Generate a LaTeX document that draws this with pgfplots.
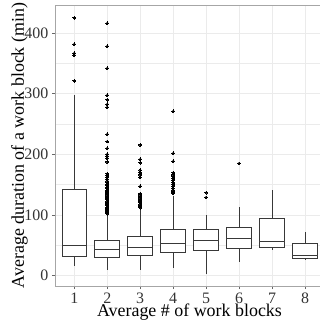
\documentclass[border=0pt]{standalone}
\usepackage{fontspec}
\setmainfont{Liberation Serif}
\usepackage{pgfplots}
\pgfplotsset{compat=1.18}
\usepgfplotslibrary{statistics}
\definecolor{boxc}{HTML}{383838}
\definecolor{gridc}{HTML}{EBEBEB}
\definecolor{borderc}{HTML}{A6A6A6}
\definecolor{tickc}{HTML}{333333}
\definecolor{tickm}{HTML}{666666}
\pgfplotsset{
  bp/.style={draw=boxc, fill=white, line width=0.85bp, solid,
    mark=*, mark size=1.35bp, mark options={draw=black, fill=black, line width=0pt}},
}
\begin{document}
\begin{tikzpicture}
\begin{axis}[
  width=265bp, height=281bp, scale only axis,
  xmin=0.414, xmax=8.455, ymin=-17, ymax=446,
  xtick={1,2,3,4,5,6,7,8}, ytick={0,100,200,300,400},
  minor ytick={50,150,250,350},
  grid=both,
  major grid style={gridc, line width=0.7bp},
  minor grid style={gridc, line width=0.35bp},
  axis x line*=box, axis y line*=left,
  axis line style={borderc, line width=0.7bp},
  tick align=outside, major tick length=3bp, minor tick length=0pt,
  tick style={tickm, line width=0.6bp},
  xtick pos=left, ytick pos=left,
  /pgf/number format/assume math mode=true,
  ticklabel style={font=\fontsize{16}{16}\selectfont, text=tickc},
  yticklabel style={anchor=east, inner sep=0pt, xshift=-3.5bp},
  xticklabel style={anchor=north, inner sep=0pt, yshift=-4bp},
  xlabel={Average \# of work blocks},
  ylabel={Average duration of a work block (min)},
  label style={font=\fontsize{18}{18}\selectfont, inner sep=0pt},
  xlabel style={at={(axis description cs:0.5075,-0.1068)}, anchor=base},
  ylabel style={at={(axis description cs:-0.117,0.5)}, anchor=base},
  boxplot/draw direction=y,
  boxplot/box extend=0.75,
  boxplot/whisker extend=0,
  boxplot/every median/.style={line width=1.3bp},
]
\addplot[bp, boxplot prepared={draw position=1, lower whisker=16, lower quartile=31.3, median=49.4, upper quartile=141.7, upper whisker=298}]
  table[row sep=\\, y index=0] {y\\ 320.9\\ 363.2\\ 366.5\\ 381.3\\ 424.7\\};
\addplot[bp, boxplot prepared={draw position=2, lower whisker=9.4, lower quartile=30.3, median=42.9, upper quartile=58.8, upper whisker=100}]
  table[row sep=\\, y index=0] {y\\ 102\\ 104\\ 105\\ 107\\ 109\\ 111\\ 113\\ 115\\ 117\\ 119\\ 121\\ 123\\ 125\\ 127\\ 129\\ 131\\ 133\\ 135\\ 137\\ 139\\ 141\\ 143\\ 145\\ 148\\ 150\\ 153\\ 156\\ 159\\ 162\\ 165\\ 168\\ 187.4\\ 193.5\\ 197\\ 200\\ 210\\ 221\\ 233\\ 277.5\\ 282.4\\ 290\\ 297.3\\ 341.8\\ 378\\ 416\\};
\addplot[bp, boxplot prepared={draw position=3, lower whisker=9, lower quartile=34, median=46.1, upper quartile=64.3, upper whisker=110}]
  table[row sep=\\, y index=0] {y\\ 112\\ 114\\ 116\\ 118\\ 120\\ 122\\ 124\\ 126\\ 128\\ 130\\ 133\\ 135\\ 147.5\\ 162\\ 166\\ 170\\ 174\\ 186\\ 191.8\\ 215.4\\};
\addplot[bp, boxplot prepared={draw position=4, lower whisker=12.2, lower quartile=38.8, median=53, upper quartile=77, upper whisker=132}]
  table[row sep=\\, y index=0] {y\\ 136\\ 138\\ 141\\ 144\\ 147\\ 150\\ 153\\ 157\\ 160\\ 163\\ 166\\ 169.7\\ 188.5\\ 201.7\\ 270.9\\};
\addplot[bp, boxplot prepared={draw position=5, lower whisker=2.8, lower quartile=42.3, median=57.7, upper quartile=75.8, upper whisker=100}]
  table[row sep=\\, y index=0] {y\\ 129\\ 136.7\\};
\addplot[bp, boxplot prepared={draw position=6, lower whisker=22, lower quartile=45.1, median=61.6, upper quartile=80.2, upper whisker=112.7}]
  table[row sep=\\, y index=0] {y\\ 185\\};
\addplot[bp, boxplot prepared={draw position=7, lower whisker=41.5, lower quartile=46.8, median=56.5, upper quartile=94.8, upper whisker=141.2}]
  coordinates {};
\addplot[bp, boxplot prepared={draw position=8, lower whisker=27, lower quartile=28, median=32.7, upper quartile=53.8, upper whisker=71.7}]
  coordinates {};
\end{axis}
\pgfresetboundingbox
\path[use as bounding box] ([xshift=-55bp,yshift=-38bp]current axis.south west) rectangle ([yshift=5bp]current axis.north east);
\end{tikzpicture}
\end{document}
